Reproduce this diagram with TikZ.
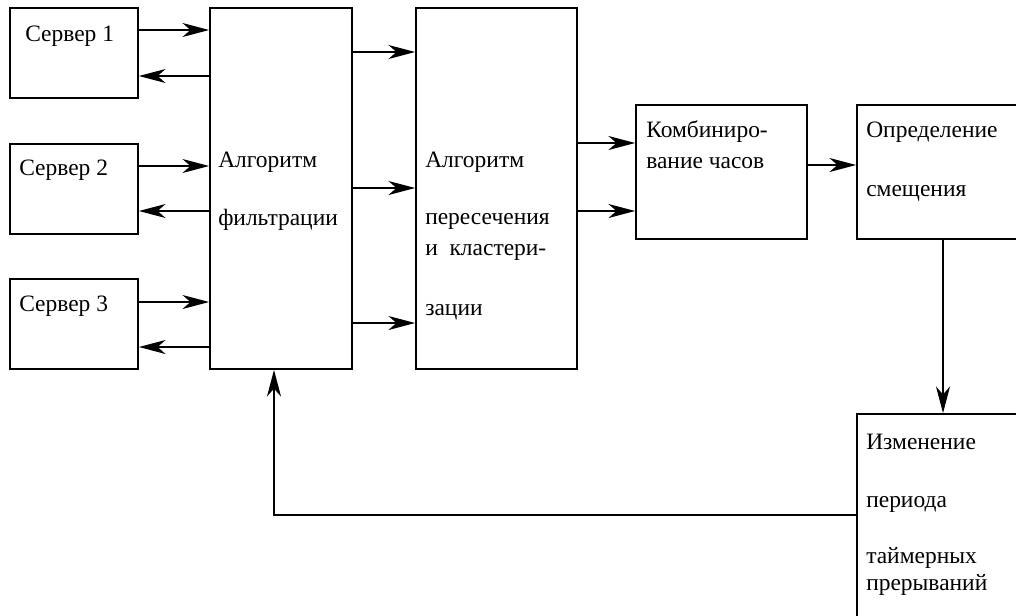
\documentclass[tikz,border=0pt]{standalone}
\usepackage{fontspec}
\setmainfont{LiberationSerif}[Extension=.ttf,UprightFont=*-Regular,BoldFont=*-Bold]
\usetikzlibrary{arrows.meta}

\begin{document}
\begin{tikzpicture}[x=0.75pt,y=-0.75pt,
  box/.style={draw,line width=1.3pt,inner sep=0pt},
  lbl/.style={inner sep=0pt,anchor=base west,font=\rmfamily\fontsize{17.6}{20}\selectfont},
  arr/.style={line width=1.3pt,-{Stealth[length=20pt,width=10.5pt,inset=6pt]}}]
  \useasboundingbox (0,0) rectangle (1016,615);
  \clip (0,0) rectangle (1016,615);

  % blocks
  \node[box,minimum width=96pt,minimum height=67.5pt] (s1) at (74,53) {};
  \node[box,minimum width=96pt,minimum height=67.5pt] (s2) at (74,189) {};
  \node[box,minimum width=96pt,minimum height=67.5pt] (s3) at (74,324) {};
  \node[box,minimum width=106.5pt,minimum height=270.75pt] (filt) at (281,188.5) {};
  \node[box,minimum width=120.75pt,minimum height=270.75pt] (clus) at (496.5,188.5) {};
  \node[box,minimum width=128.25pt,minimum height=100.5pt] (comb) at (721.5,172) {};
  \node[box,minimum width=128.25pt,minimum height=100.5pt] (offs) at (942.5,172) {};
  \node[box,minimum width=128.25pt,minimum height=169.5pt] (tmr) at (942.5,527) {};

  % texts
  \node[lbl] (t1) at (25,41) {Сервер 1};
  \node[lbl] (t2) at (19,175) {Сервер 2};
  \node[lbl] (t3) at (19,311) {Сервер 3};
  \node[lbl] (f1) at (218,167) {Алгоритм};
  \node[lbl] (f2) at (218,225) {фильтрации};
  \node[lbl] (c1) at (425,167) {Алгоритм};
  \node[lbl] (c2) at (425,224) {пересечения};
  \node[lbl] (c3) at (425,255) {и\ \ кластери-};
  \node[lbl] (c4) at (425,315) {зации};
  \node[lbl] (k1) at (646,137) {Комбиниро-};
  \node[lbl] (k2) at (646,168) {вание часов};
  \node[lbl] (o1) at (866,137) {Определение};
  \node[lbl] (o2) at (866,196) {смещения};
  \node[lbl] (m1) at (866,449) {Изменение};
  \node[lbl] (m2) at (866,507) {периода};
  \node[lbl] (m3) at (866,563) {таймерных};
  \node[lbl] (m4) at (866,590) {прерываний};

  % servers <-> filter
  \draw[arr] (s1.east |- 0,30) -- (filt.west |- 0,30);
  \draw[arr] (filt.west |- 0,76) -- (s1.east |- 0,76);
  \draw[arr] (s2.east |- 0,166) -- (filt.west |- 0,166);
  \draw[arr] (filt.west |- 0,211) -- (s2.east |- 0,211);
  \draw[arr] (s3.east |- 0,302) -- (filt.west |- 0,302);
  \draw[arr] (filt.west |- 0,347) -- (s3.east |- 0,347);

  % filter -> clustering
  \draw[arr] (filt.east |- 0,52) -- (clus.west |- 0,52);
  \draw[arr] (filt.east |- 0,188) -- (clus.west |- 0,188);
  \draw[arr] (filt.east |- 0,323) -- (clus.west |- 0,323);

  % clustering -> combining -> offset
  \draw[arr] (clus.east |- 0,143) -- (comb.west |- 0,143);
  \draw[arr] (clus.east |- 0,211) -- (comb.west |- 0,211);
  \draw[arr] (comb.east |- 0,165) -- (offs.west |- 0,165);

  % offset -> timer, feedback
  \draw[arr] (offs.south -| 943,0) -- (tmr.north -| 943,0);
  \draw[arr] (tmr.west |- 0,515) -| (filt.south -| 274,0);
\end{tikzpicture}
\end{document}
